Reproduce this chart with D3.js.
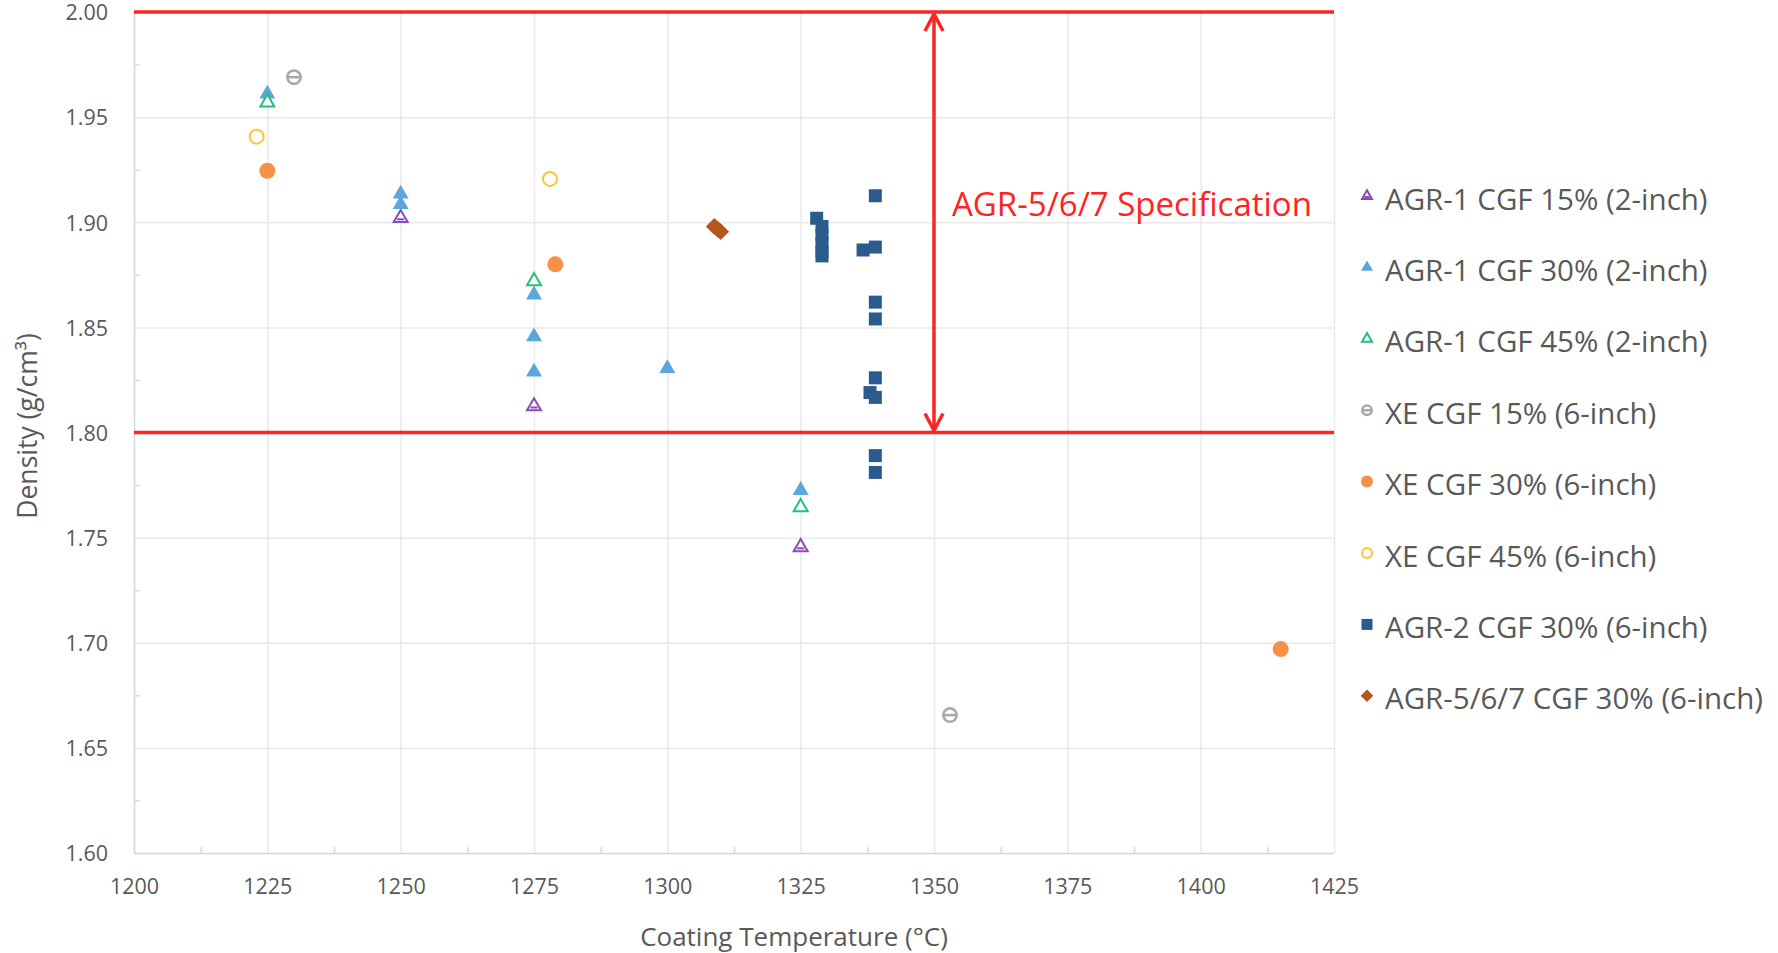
<!DOCTYPE html>
<html>
<head>
<meta charset="utf-8">
<script src="https://cdn.jsdelivr.net/npm/d3@7"></script>
<style>
  body { margin: 0; background: #fff; }
  text { font-family: "Open Sans", sans-serif; }
</style>
</head>
<body>
<div id="chart"></div>
<script>
// data: [coating temperature (°C), density (g/cm3)]
const agr1Cgf15 = [[1250, 1.902], [1275, 1.8125], [1325, 1.7455]];
const agr1Cgf30 = [[1225, 1.961], [1250, 1.9135], [1250, 1.9085], [1275, 1.8655],
                   [1275, 1.8456], [1275, 1.8288], [1300, 1.8305], [1325, 1.7725]];
const agr1Cgf45 = [[1225, 1.957], [1275, 1.872], [1325, 1.7645]];
const xeCgf15 = [[1230, 1.969], [1353, 1.6656]];
const xeCgf30 = [[1225, 1.9245], [1279, 1.880], [1415, 1.697]];
const xeCgf45 = [[1223, 1.9407], [1278, 1.9206]];
const agr2Cgf30 = [[1339, 1.9126], [1328, 1.9019], [1329, 1.898], [1329, 1.894], [1329, 1.890],
                   [1329, 1.886], [1329, 1.884], [1336.7, 1.8868], [1339, 1.8882], [1339, 1.862],
                   [1339, 1.854], [1339, 1.826], [1338, 1.819], [1339, 1.8167], [1339, 1.789], [1339, 1.781]];
const agr567Cgf30 = [[1308.8, 1.898], [1309.4, 1.8968], [1310.0, 1.8955]];

const seriesNames = ["AGR-1 CGF 15% (2-inch)", "AGR-1 CGF 30% (2-inch)", "AGR-1 CGF 45% (2-inch)",
  "XE CGF 15% (6-inch)", "XE CGF 30% (6-inch)", "XE CGF 45% (6-inch)",
  "AGR-2 CGF 30% (6-inch)", "AGR-5/6/7 CGF 30% (6-inch)"];
const xTicks = [1200, 1225, 1250, 1275, 1300, 1325, 1350, 1375, 1400, 1425];
const yTicks = [1.60, 1.65, 1.70, 1.75, 1.80, 1.85, 1.90, 1.95, 2.00];
const specLimits = [1.80, 2.00];
const specTemp = 1350;
const specLabel = "AGR-5/6/7 Specification";

const width = 1778, height = 953;
const margin = {top: 12, right: 444, bottom: 100, left: 134};
const innerW = width - margin.left - margin.right,
      innerH = height - margin.top - margin.bottom;

const svg = d3.select("#chart").append("svg")
  .attr("width", width).attr("height", height)
  .style("background", "#fff");
const g = svg.append("g").attr("transform", `translate(${margin.left}, ${margin.top})`);

const x = d3.scaleLinear().domain([1200, 1425]).range([0, innerW]);
const y = d3.scaleLinear().domain([1.6, 2.0]).range([innerH, 0]);

// gridlines
g.append("g")
  .attr("transform", `translate(0, ${innerH})`)
  .call(d3.axisBottom(x).tickValues(xTicks).tickSize(-innerH).tickFormat(""))
  .call(a => a.select(".domain").remove())
  .selectAll("line").attr("stroke", "#e9e9e9").attr("stroke-width", 1.5);
g.append("g")
  .call(d3.axisLeft(y).tickValues(yTicks).tickSize(-innerW).tickFormat(""))
  .call(a => a.select(".domain").remove())
  .selectAll("line").attr("stroke", "#e9e9e9").attr("stroke-width", 1.5);

// minor ticks (inside)
const xMinor = xTicks.slice(0, -1).map(d => d + 12.5);
const yMinor = yTicks.slice(0, -1).map(d => d + 0.025);
g.append("g")
  .attr("transform", `translate(0, ${innerH})`)
  .call(d3.axisBottom(x).tickValues(xMinor).tickSize(-6).tickFormat(""))
  .call(a => a.select(".domain").remove())
  .selectAll("line").attr("stroke", "#d9d9d9").attr("stroke-width", 1.5);
g.append("g")
  .call(d3.axisLeft(y).tickValues(yMinor).tickSize(-6).tickFormat(""))
  .call(a => a.select(".domain").remove())
  .selectAll("line").attr("stroke", "#d9d9d9").attr("stroke-width", 1.5);

// axes
const xAxis = g.append("g")
  .attr("transform", `translate(0, ${innerH})`)
  .call(d3.axisBottom(x).tickValues(xTicks).tickSize(0).tickPadding(26).tickFormat(d3.format("d")));
const yAxis = g.append("g")
  .call(d3.axisLeft(y).tickValues(yTicks).tickSize(0).tickPadding(26).tickFormat(d3.format(".2f")));
[xAxis, yAxis].forEach(a => {
  a.select(".domain").attr("stroke", "#d9d9d9").attr("stroke-width", 1.5);
  a.selectAll("text").style("font-size", "21.5px").attr("fill", "#595959")
    .style("font-family", "'Open Sans', sans-serif");
});
yAxis.selectAll("text").attr("dy", "0.36em");

// axis titles
svg.append("text")
  .attr("x", 794).attr("y", 946)
  .attr("text-anchor", "middle")
  .style("font-size", "26px").attr("fill", "#595959")
  .text("Coating Temperature (°C)");
svg.append("text")
  .attr("transform", "translate(37, 426) rotate(-90)")
  .attr("text-anchor", "middle")
  .style("font-size", "26.5px").attr("fill", "#595959")
  .text("Density (g/cm³)");

// spec lines
const red = "#ff2424";
g.selectAll(".spec")
  .data(specLimits)
  .join("line")
    .attr("x1", 0).attr("x2", innerW)
    .attr("y1", d => y(d)).attr("y2", d => y(d))
    .attr("stroke", red).attr("stroke-width", 3.5);

// double-headed arrow
const ax = x(specTemp), aTop = y(specLimits[1]) + 2, aBot = y(specLimits[0]) - 2;
g.append("line")
  .attr("x1", ax).attr("x2", ax).attr("y1", aTop).attr("y2", aBot)
  .attr("stroke", red).attr("stroke-width", 3.5);
g.append("path")
  .attr("d", `M${ax - 9},${aTop + 17}L${ax},${aTop}L${ax + 9},${aTop + 17}` +
             `M${ax - 9},${aBot - 17}L${ax},${aBot}L${ax + 9},${aBot - 17}`)
  .attr("fill", "none").attr("stroke", red).attr("stroke-width", 3.5);

g.append("text")
  .attr("x", x(specTemp) + 18).attr("y", 204)
  .style("font-size", "33px").attr("fill", red)
  .text(specLabel);

// marker drawers
function drawMarker(sel, type, s) {
  const tri = d3.symbol(d3.symbolTriangle, 0.433 * s * s)();
  if (type === 0) {
    sel.append("path").attr("d", d3.symbol(d3.symbolTriangle, 0.433 * (s - 2) * (s - 2))())
      .attr("fill", "#fff").attr("stroke", "#8a4bb8").attr("stroke-width", 2);
    sel.append("line").attr("x1", -s * 0.22).attr("x2", s * 0.22).attr("y1", s * 0.08).attr("y2", s * 0.08)
      .attr("stroke", "#8a4bb8").attr("stroke-width", 2);
  } else if (type === 1) {
    sel.append("path").attr("d", tri).attr("fill", "#5ca6dc");
  } else if (type === 2) {
    sel.append("path").attr("d", d3.symbol(d3.symbolTriangle, 0.433 * (s - 2) * (s - 2))())
      .attr("fill", "#fff").attr("stroke", "#22c17b").attr("stroke-width", 2);
  } else if (type === 3) {
    sel.append("circle").attr("r", s / 2 - 1.3).attr("fill", "#fff").attr("stroke", "#a9a9a9").attr("stroke-width", 2.6);
    sel.append("line").attr("x1", -s / 2 + 1).attr("x2", s / 2 - 1)
      .attr("stroke", "#a9a9a9").attr("stroke-width", 2.6);
  } else if (type === 4) {
    sel.append("circle").attr("r", s / 2).attr("fill", "#f7904a");
  } else if (type === 5) {
    sel.append("circle").attr("r", s / 2 - 1).attr("fill", "#fff").attr("stroke", "#ffc42e").attr("stroke-width", 2);
  } else if (type === 6) {
    sel.append("path").attr("d", d3.symbol(d3.symbolSquare, (s - 1) * (s - 1))()).attr("fill", "#2a5b8c");
  } else {
    sel.append("path").attr("d", d3.symbol(d3.symbolSquare, s * s * 0.55)())
      .attr("transform", "rotate(45)").attr("fill", "#b4571f");
  }
}

const allSeries = [agr1Cgf15, agr1Cgf30, agr1Cgf45, xeCgf15, xeCgf30, xeCgf45, agr2Cgf30, agr567Cgf30];
const drawOrder = [3, 4, 5, 0, 1, 2, 6, 7];
drawOrder.forEach(i => {
  g.append("g").selectAll("g")
    .data(allSeries[i])
    .join("g")
      .attr("transform", d => `translate(${x(d[0])}, ${y(d[1])})`)
      .each(function() { drawMarker(d3.select(this), i, i === 6 ? 14 : 16); });
});

// legend
const legend = svg.append("g").attr("transform", "translate(1367, 199)");
seriesNames.forEach((name, i) => {
  const row = legend.append("g").attr("transform", `translate(0, ${i * 71.4})`);
  drawMarker(row.append("g").attr("transform", "translate(0, -3)"), i, 12);
  row.append("text")
    .attr("x", 18).attr("y", 0).attr("dy", "0.36em")
    .style("font-size", "29.5px").attr("fill", "#595959")
    .text(name);
});
</script>
</body>
</html>
